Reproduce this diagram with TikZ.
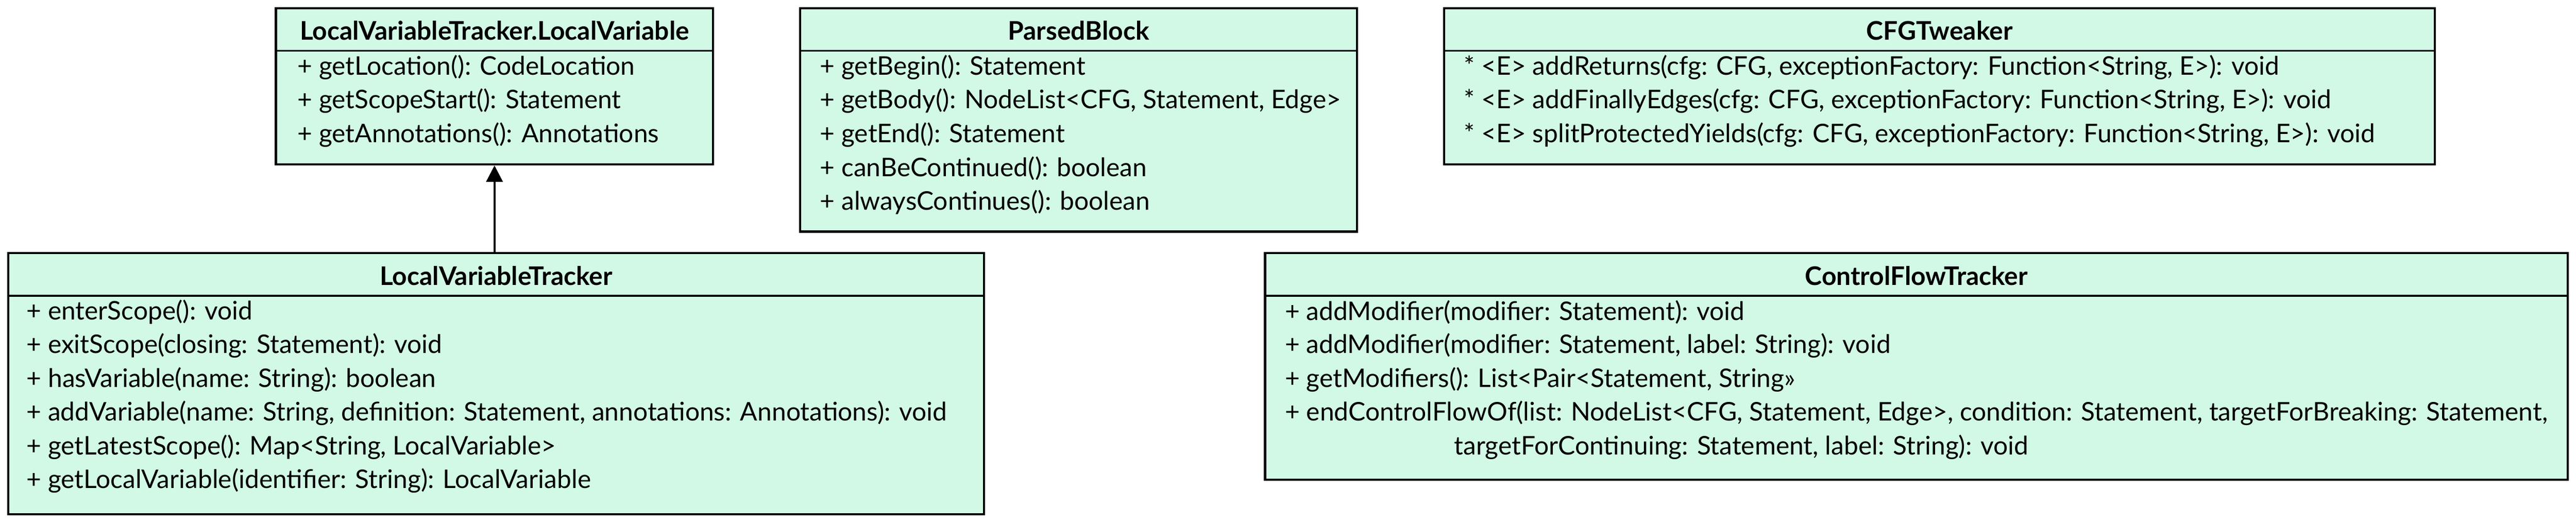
\documentclass[tikz,border=0pt]{standalone}
\usepackage{fontspec}
\setmainfont{Lato}
\usetikzlibrary{arrows.meta}
\definecolor{mint}{RGB}{209,249,229}
\begin{document}
\begin{tikzpicture}[x=1pt,y=-1pt,
  cls/.style={draw,line width=1.4pt,fill=mint,inner sep=0pt},
  head/.style={inner sep=0pt,font=\bfseries\fontsize{15.6}{18}\selectfont},
  member/.style={anchor=west,inner sep=0pt,font=\fontsize{15.6}{18}\selectfont}]
\useasboundingbox (0,0) rectangle (1568,317.4);
% classes
\node[cls,minimum width=266pt,minimum height=95pt] (local) at (301,52.5) {};
\node[cls,minimum width=339pt,minimum height=136pt] (parsed) at (656.5,73) {};
\node[cls,minimum width=603pt,minimum height=95pt] (tweaker) at (1180.5,52.5) {};
\node[cls,minimum width=594pt,minimum height=159pt] (tracker) at (302,233.5) {};
\node[cls,minimum width=793pt,minimum height=138pt] (flow) at (1166.5,223) {};
% header separators
\draw[line width=1pt] (local.west |- 0,31) -- (local.east |- 0,31);
\draw[line width=1pt] (parsed.west |- 0,31) -- (parsed.east |- 0,31);
\draw[line width=1pt] (tweaker.west |- 0,31) -- (tweaker.east |- 0,31);
\draw[line width=1pt] (tracker.west |- 0,180) -- (tracker.east |- 0,180);
\draw[line width=1pt] (flow.west |- 0,180) -- (flow.east |- 0,180);
% titles
\node[head] (localT) at (local |- 0,18.5) {LocalVariableTracker.LocalVariable};
\node[head] (parsedT) at (parsed |- 0,18.5) {ParsedBlock};
\node[head] (tweakerT) at (tweaker |- 0,18.5) {CFGTweaker};
\node[head] (trackerT) at (tracker |- 0,168) {LocalVariableTracker};
\node[head] (flowT) at (flow |- 0,168) {ControlFlowTracker};
% members
\foreach \t [count=\i] in {{+ getLocation(): CodeLocation},{+ getScopeStart(): Statement},{+ getAnnotations(): Annotations}}
  \node[member] (localM\i) at (181,20.5+20.5*\i) {\t};
\foreach \t [count=\i] in {{+ getBegin(): Statement},{+ getBody(): NodeList<CFG, Statement, Edge>},{+ getEnd(): Statement},{+ canBeContinued(): boolean},{+ alwaysContinues(): boolean}}
  \node[member] (parsedM\i) at (499,20.5+20.5*\i) {\t};
\foreach \t [count=\i] in {{* <E> addReturns(cfg: CFG, exceptionFactory: Function<String, E>): void},{* <E> addFinallyEdges(cfg: CFG, exceptionFactory: Function<String, E>): void},{* <E> splitProtectedYields(cfg: CFG, exceptionFactory: Function<String, E>): void}}
  \node[member] (tweakerM\i) at (891,20.5+20.5*\i) {\t};
\foreach \t [count=\i] in {{+ enterScope(): void},{+ exitScope(closing: Statement): void},{+ hasVariable(name: String): boolean},{+ addVariable(name: String, definition: Statement, annotations: Annotations): void},{+ getLatestScope(): Map<String, LocalVariable>},{+ getLocalVariable(identifier: String): LocalVariable}}
  \node[member] (trackerM\i) at (16,169.5+20.5*\i) {\t};
\foreach \t [count=\i] in {{+ addModifier(modifier: Statement): void},{+ addModifier(modifier: Statement, label: String): void},{+ getModifiers(): List<Pair<Statement, String»},{+ endControlFlowOf(list: NodeList<CFG, Statement, Edge>, condition: Statement, targetForBreaking: Statement,}}
  \node[member] (flowM\i) at (782,169.5+20.5*\i) {\t};
\node[member] (flowM5) at (885,272) {targetForContinuing: Statement, label: String): void};
% inheritance
\draw[line width=1.4pt,-{Triangle[length=10pt,width=10pt]}] (tracker.north -| local) -- (local.south);
\end{tikzpicture}
\end{document}
